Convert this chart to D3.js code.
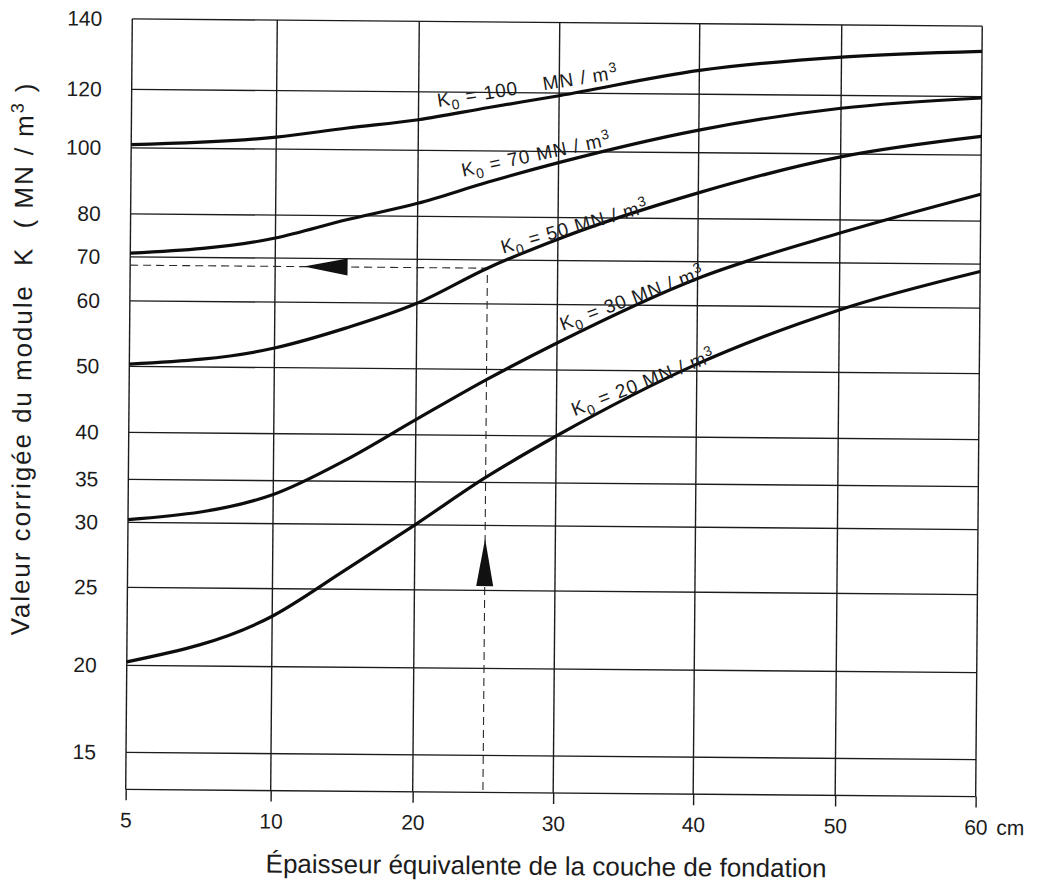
<!DOCTYPE html>
<html>
<head>
<meta charset="utf-8">
<script src="https://cdn.jsdelivr.net/npm/d3@7"></script>
<style>
  html, body { margin: 0; padding: 0; background: #ffffff; }
  svg text { font-family: "Liberation Sans", Arial, Helvetica, sans-serif; fill: #1c1c1c; white-space: pre; }
</style>
</head>
<body>
<svg id="chart" width="1043" height="890"></svg>
<script>
// Abaque : valeur corrigée du module K selon l'épaisseur équivalente de la couche de fondation
const thicknessCm = [5, 10, 15, 20, 25, 30, 40, 50, 60];
const kCorrected100 = [101, 103.8, 107, 110, 114.5, 119, 126.4, 130.5, 132.5];
const kCorrected70  = [70.8, 74.5, 79, 83.6, 90, 96.3, 107.3, 115.3, 119.5];
const kCorrected50  = [50.3, 52.8, 55.9, 60, 68, 74.8, 87.3, 99, 106];
const kCorrected30  = [30.3, 33.3, 37.1, 42.1, 48.3, 53.9, 66, 76.8, 87.6];
const kCorrected20  = [20.2, 23.1, 26.3, 30, 35.5, 40, 51, 59.5, 68.2];
const k0Values = [100, 70, 50, 30, 20];

const xTickValues = [5, 10, 20, 30, 40, 50, 60];
const kTickValues = [140, 120, 100, 80, 70, 60, 50, 40, 35, 30, 25, 20, 15];

// exemple de lecture : 25 cm sur K0 = 50 MN/m3 donne K ≈ 68 MN/m3
const exampleThickness = 25;
const exampleK = 68;
const arrowLeftFrom = 15.1, arrowLeftTo = 12;   // cm, le long de K = exampleK
const arrowUpFrom = 25.3, arrowUpTo = 28.9;      // K, le long de exampleThickness

// ancrage des étiquettes de courbe (épaisseur, K, inclinaison)
const labelThickness = [21.4, 23.2, 26.1, 30.4, 31.3];
const labelK = [114.5, 91.6, 71.4, 55.8, 42.8];
const labelAngle = [-9.5, -12.5, -16.5, -21, -22];
const labelGap = ["   ", "", "", "", ""];

// ---- mise en page ----
const frame = { left: 129, right: 979, top: 22.5, bottom: 793 };
const rulingX = [129, 274, 416, 556.5, 696.5, 838.5, 979];
const rulingY = [22.5, 93, 151.5, 217.5, 260.5, 304.5, 370, 436, 483, 526, 591, 669, 756];
const ink = "#1c1c1c";

const svg = d3.select("#chart");
const g = svg.append("g").attr("transform", "rotate(0.49, 555, 405)");

// abscisse : graduations régulièrement espacées (5, 10, 20 … 60 cm)
const x = d3.scaleLinear()
  .domain(xTickValues)
  .range(rulingX);

// ordonnée : échelle logarithmique par morceaux sur les lignes de l'abaque
const y = d3.scaleLog()
  .domain(kTickValues)
  .range(rulingY);

// quadrillage horizontal
g.append("g").selectAll("line")
  .data(kTickValues)
  .join("line")
  .attr("x1", frame.left).attr("x2", frame.right)
  .attr("y1", d => y(d)).attr("y2", d => y(d))
  .attr("stroke", ink).attr("stroke-width", 1.4);

g.append("line")
  .attr("x1", frame.left).attr("x2", frame.right)
  .attr("y1", frame.bottom).attr("y2", frame.bottom)
  .attr("stroke", ink).attr("stroke-width", 1.4);

// quadrillage vertical
g.append("g").selectAll("line")
  .data(xTickValues)
  .join("line")
  .attr("x1", d => x(d)).attr("x2", d => x(d))
  .attr("y1", frame.top).attr("y2", frame.bottom)
  .attr("stroke", ink).attr("stroke-width", 1.4);

// axe des abscisses
const xAxis = g.append("g")
  .attr("transform", `translate(0,${frame.bottom})`)
  .call(d3.axisBottom(x).tickValues(xTickValues).tickFormat(d3.format("d"))
    .tickSizeInner(11).tickSizeOuter(0).tickPadding(12));
xAxis.select(".domain").remove();
xAxis.selectAll(".tick line").attr("stroke", ink).attr("stroke-width", 1.4);
xAxis.selectAll(".tick text").attr("font-size", 21).attr("fill", ink)
  .style("font-family", "'Liberation Sans', Arial, sans-serif");

g.append("text")
  .attr("x", x(60) + 21).attr("y", frame.bottom + 38)
  .attr("font-size", 21)
  .text("cm");

// axe des ordonnées
const yAxis = g.append("g")
  .attr("transform", `translate(${frame.left},0)`)
  .call(d3.axisLeft(y).tickValues(kTickValues).tickFormat(d3.format("d"))
    .tickSize(0).tickPadding(30));
yAxis.select(".domain").remove();
yAxis.selectAll(".tick text").attr("font-size", 21).attr("fill", ink)
  .style("font-family", "'Liberation Sans', Arial, sans-serif");

// exemple de lecture en pointillés
g.append("path")
  .attr("d", d3.line()([
    [x(5), y(exampleK)],
    [x(exampleThickness), y(exampleK)],
    [x(exampleThickness), frame.bottom]
  ]))
  .attr("fill", "none").attr("stroke", "#2a2a2a").attr("stroke-width", 1.1)
  .attr("stroke-dasharray", "8,5");

// flèches
const yl = y(exampleK);
g.append("path")
  .attr("d", `M${x(arrowLeftTo)},${yl} L${x(arrowLeftFrom)},${yl - 8.5} L${x(arrowLeftFrom)},${yl + 8.5} Z`)
  .attr("fill", "#111");
const xu = x(exampleThickness);
g.append("path")
  .attr("d", `M${xu},${y(arrowUpTo)} L${xu + 8.5},${y(arrowUpFrom)} L${xu - 8.5},${y(arrowUpFrom)} Z`)
  .attr("fill", "#111");

// courbes K0
const curves = [kCorrected100, kCorrected70, kCorrected50, kCorrected30, kCorrected20];
const line = d3.line()
  .x((d, i) => x(thicknessCm[i]))
  .y(d => y(d))
  .curve(d3.curveMonotoneX);

g.append("g").selectAll("path")
  .data(curves)
  .join("path")
  .attr("d", line)
  .attr("fill", "none")
  .attr("stroke", "#0d0d0d")
  .attr("stroke-width", 3.2)
  .attr("stroke-linejoin", "round");

// étiquettes des courbes
const labels = g.append("g").selectAll("text")
  .data(k0Values)
  .join("text")
  .attr("transform", (d, i) => `translate(${x(labelThickness[i])},${y(labelK[i])}) rotate(${labelAngle[i]})`)
  .attr("font-size", 19)
  .attr("letter-spacing", 1)
  .attr("fill", "#2b2b2b");

labels.each(function (d, i) {
  const t = d3.select(this);
  t.append("tspan").text("K");
  t.append("tspan").attr("font-size", 14).attr("dy", 5).text("0");
  t.append("tspan").attr("dy", -5).text(` = ${d} ${labelGap[i]}MN / m`);
  t.append("tspan").attr("font-size", 14).attr("dy", -7).text("3");
});

// titres des axes
g.append("text")
  .attr("x", 550).attr("y", 875)
  .attr("text-anchor", "middle")
  .attr("font-size", 26)
  .text("Épaisseur équivalente de la couche de fondation");

const yTitle = g.append("text")
  .attr("transform", "translate(31,364) rotate(-90)")
  .attr("text-anchor", "middle")
  .attr("font-size", 26)
  .attr("textLength", 552)
  .attr("lengthAdjust", "spacing");
yTitle.append("tspan").text("Valeur corrigée du module  K  ( MN / m");
yTitle.append("tspan").attr("font-size", 18).attr("dy", -10).text("3");
yTitle.append("tspan").attr("dy", 10).text(" )");
</script>
</body>
</html>
